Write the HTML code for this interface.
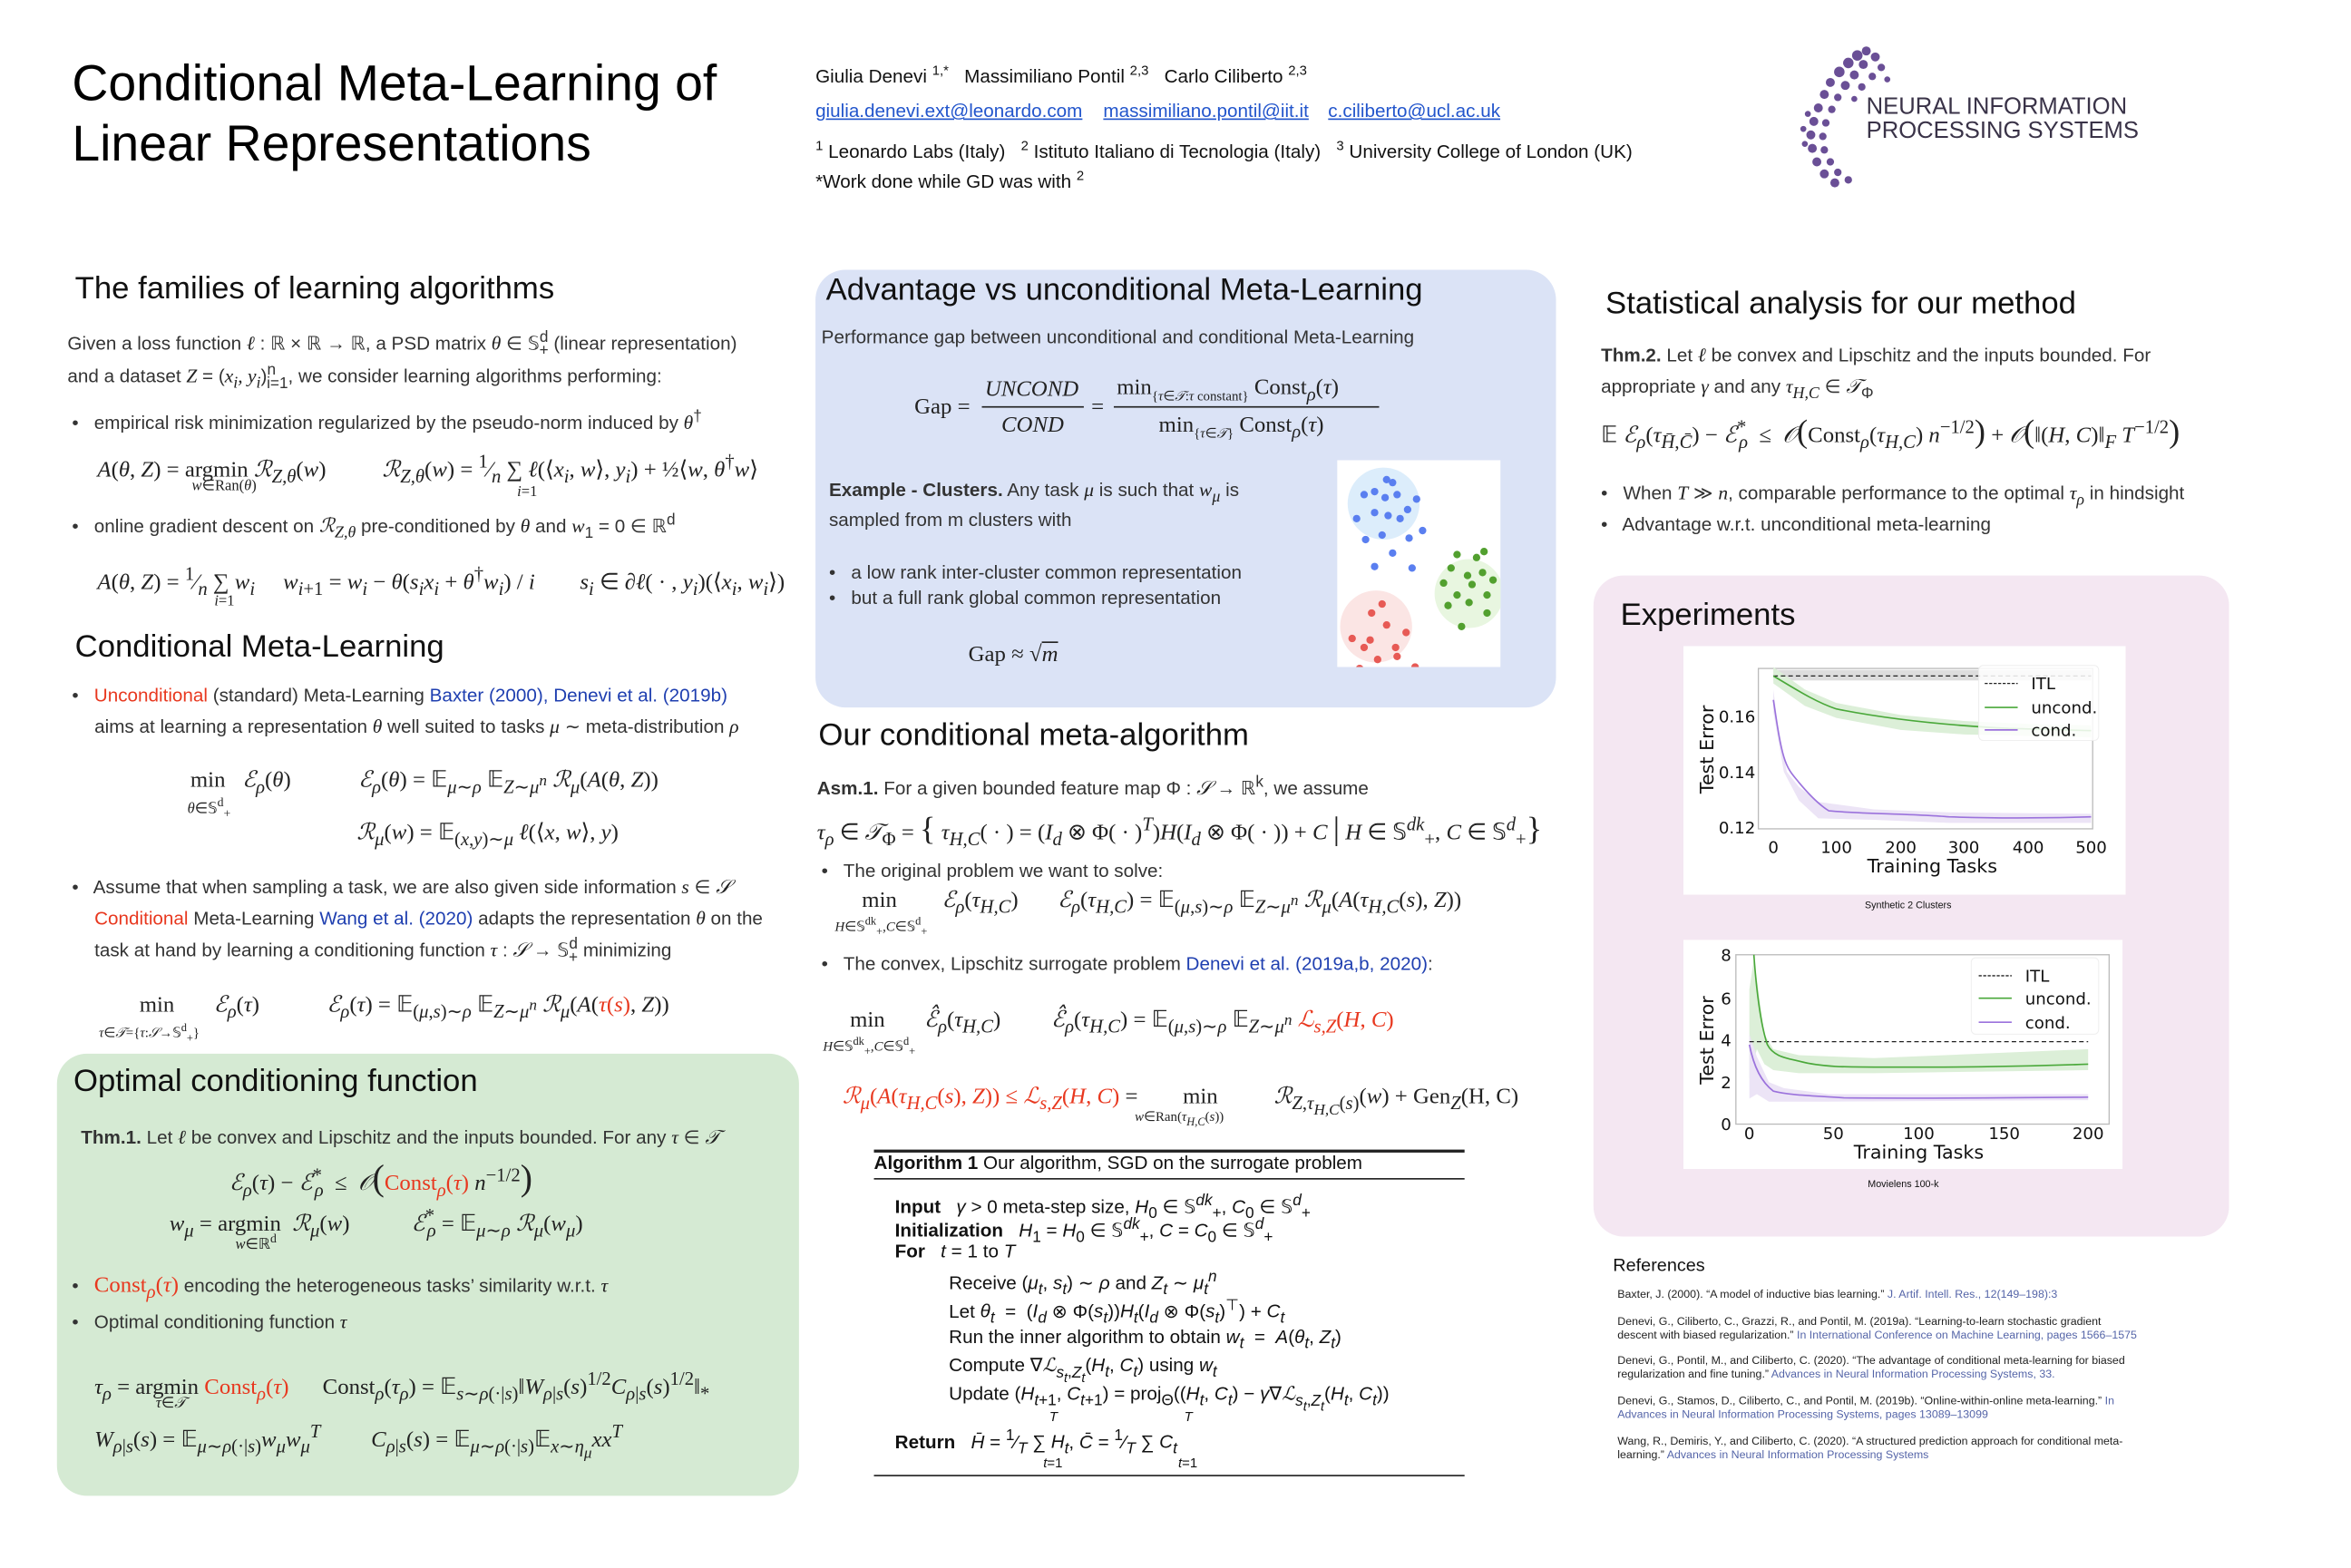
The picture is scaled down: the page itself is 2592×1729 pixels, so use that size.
<!DOCTYPE html>
<html><head><meta charset="utf-8">
<style>
html,body{margin:0;padding:0;background:#fff;}
body{width:2592px;height:1728px;overflow:hidden;position:relative;}
#p{position:absolute;left:0;top:0;width:1568px;height:1046px;transform:scale(1.6527);transform-origin:0 0;font-family:"Liberation Sans",sans-serif;color:#222;}
.t{position:absolute;white-space:nowrap;line-height:1;}
.h{font-size:21px;color:#111;}
.s{font-size:12.5px;color:#333;}
.m{font-family:"Liberation Serif",serif;font-size:15px;color:#222;}
.i{font-style:italic;}
.r{color:#e8381f;}
.b{color:#1f3fb0;}
.box{position:absolute;border-radius:20px;}
.ref{font-size:7.5px;color:#222;line-height:1.2;}
.ref span{color:#5565a8;}
.alg{font-family:"Liberation Sans",sans-serif;font-size:12.5px;color:#111;}
</style></head><body><div id="p">

<!-- header -->
<div class="t" style="left:48px;top:40px;font-size:33.5px;color:#000;">Conditional Meta-Learning of</div>
<div class="t" style="left:48px;top:80px;font-size:33.5px;color:#000;">Linear Representations</div>
<div class="t s" style="left:544px;top:43px;color:#111;">Giulia Denevi <sup style="font-size:9px">1,*</sup>&nbsp;&nbsp; Massimiliano Pontil <sup style="font-size:9px">2,3</sup>&nbsp;&nbsp; Carlo Ciliberto <sup style="font-size:9px">2,3</sup></div>
<div class="t s" style="left:544px;top:68px;color:#2255cc;text-decoration:underline;">giulia.denevi.ext@leonardo.com</div>
<div class="t s" style="left:736px;top:68px;color:#2255cc;text-decoration:underline;">massimiliano.pontil@iit.it</div>
<div class="t s" style="left:886px;top:68px;color:#2255cc;text-decoration:underline;">c.ciliberto@ucl.ac.uk</div>
<div class="t s" style="left:544px;top:93px;color:#111;"><sup style="font-size:9px">1</sup> Leonardo Labs (Italy)&nbsp;&nbsp; <sup style="font-size:9px">2</sup> Istituto Italiano di Tecnologia (Italy)&nbsp;&nbsp; <sup style="font-size:9px">3</sup> University College of London (UK)</div>
<div class="t s" style="left:544px;top:113px;color:#111;">*Work done while GD was with <sup style="font-size:9px">2</sup></div>

<svg style="position:absolute;left:1195px;top:28px" width="100" height="100">
<g fill="#6a4f96">
<circle cx="50" cy="6" r="3"/><circle cx="44" cy="9" r="3.5"/><circle cx="56" cy="10" r="3"/><circle cx="38" cy="14" r="3.5"/><circle cx="48" cy="15" r="3"/><circle cx="60" cy="17" r="2.5"/><circle cx="32" cy="20" r="3.5"/><circle cx="42" cy="22" r="3"/><circle cx="54" cy="23" r="2.5"/><circle cx="64" cy="25" r="2"/><circle cx="26" cy="27" r="3"/><circle cx="36" cy="29" r="3"/><circle cx="47" cy="30" r="2.5"/><circle cx="22" cy="35" r="3"/><circle cx="31" cy="37" r="2.5"/><circle cx="42" cy="38" r="2"/><circle cx="18" cy="44" r="3"/><circle cx="27" cy="45" r="2.5"/><circle cx="15" cy="53" r="3"/><circle cx="23" cy="54" r="2.5"/><circle cx="13" cy="62" r="3"/><circle cx="21" cy="63" r="2.5"/><circle cx="14" cy="71" r="3"/><circle cx="22" cy="72" r="2.5"/><circle cx="17" cy="80" r="3"/><circle cx="26" cy="80" r="2.5"/><circle cx="22" cy="88" r="3"/><circle cx="31" cy="87" r="2.5"/><circle cx="29" cy="94" r="3"/><circle cx="38" cy="92" r="2.5"/><circle cx="8" cy="58" r="2"/><circle cx="9" cy="68" r="2"/><circle cx="11" cy="48" r="2"/></g></svg>
<div class="t" style="left:1245px;top:64px;font-size:15.5px;color:#3a3348;">NEURAL INFORMATION</div>
<div class="t" style="left:1245px;top:80px;font-size:15.5px;color:#3a3348;">PROCESSING SYSTEMS</div>

<!-- left column -->
<div class="t h" style="left:50px;top:182px;">The families of learning algorithms</div>
<div class="t s" style="left:45px;top:221px;">Given a loss function <i class="m" style="font-size:13px">ℓ</i> : ℝ × ℝ → ℝ, a PSD matrix <i class="m" style="font-size:13px">θ</i> ∈ 𝕊<sup>d</sup><sub style="margin-left:-6px">+</sub> (linear representation)</div>
<div class="t s" style="left:45px;top:243px;">and a dataset <i class="m" style="font-size:13px">Z</i> = (<i class="m" style="font-size:13px">x<sub>i</sub>, y<sub>i</sub></i>)<sup>n</sup><sub style="margin-left:-6px">i=1</sub>, we consider learning algorithms performing:</div>
<div class="t s" style="left:48px;top:274px;">•&nbsp;&nbsp; empirical risk minimization regularized by the pseudo-norm induced by <i class="m" style="font-size:13px">θ</i><sup>†</sup></div>
<div class="t m" style="left:65px;top:302px;"><i>A</i>(<i>θ</i>, <i>Z</i>) = argmin <i>ℛ<sub>Z,θ</sub></i>(<i>w</i>)&nbsp;&nbsp;&nbsp;&nbsp;&nbsp;&nbsp;&nbsp;&nbsp;&nbsp; <i>ℛ<sub>Z,θ</sub></i>(<i>w</i>) = <sup>1</sup>⁄<sub><i>n</i></sub> ∑ <i>ℓ</i>(⟨<i>x<sub>i</sub></i>, <i>w</i>⟩, <i>y<sub>i</sub></i>) + ½⟨<i>w</i>, <i>θ</i><sup>†</sup><i>w</i>⟩</div>
<div class="t m" style="left:128px;top:320px;font-size:10px;"><i>w</i>∈Ran(<i>θ</i>)</div>
<div class="t m" style="left:345px;top:324px;font-size:10px;"><i>i</i>=1</div>
<div class="t s" style="left:48px;top:343px;">•&nbsp;&nbsp; online gradient descent on <i class="m" style="font-size:13px">ℛ<sub>Z,θ</sub></i> pre-conditioned by <i class="m" style="font-size:13px">θ</i> and <i class="m" style="font-size:13px">w</i><sub>1</sub> = 0 ∈ ℝ<sup>d</sup></div>
<div class="t m" style="left:65px;top:377px;"><i>A</i>(<i>θ</i>, <i>Z</i>) = <sup>1</sup>⁄<sub><i>n</i></sub> ∑ <i>w<sub>i</sub></i>&nbsp;&nbsp;&nbsp;&nbsp; <i>w</i><sub><i>i</i>+1</sub> = <i>w<sub>i</sub></i> − <i>θ</i>(<i>s<sub>i</sub>x<sub>i</sub></i> + <i>θ</i><sup>†</sup><i>w<sub>i</sub></i>) / <i>i</i>&nbsp;&nbsp;&nbsp;&nbsp;&nbsp;&nbsp;&nbsp; <i>s<sub>i</sub></i> ∈ ∂<i>ℓ</i>( · , <i>y<sub>i</sub></i>)(⟨<i>x<sub>i</sub></i>, <i>w<sub>i</sub></i>⟩)</div>
<div class="t m" style="left:143px;top:397px;font-size:10px;"><i>i</i>=1</div>

<div class="t h" style="left:50px;top:421px;">Conditional Meta-Learning</div>
<div class="t s" style="left:48px;top:458px;">•&nbsp;&nbsp; <span class="r">Unconditional</span> (standard) Meta-Learning <span class="b">Baxter (2000), Denevi et al. (2019b)</span></div>
<div class="t s" style="left:63px;top:478px;">aims at learning a representation <i class="m" style="font-size:13px">θ</i> well suited to tasks <i class="m" style="font-size:13px">μ</i> ∼ meta-distribution <i class="m" style="font-size:13px">ρ</i></div>
<div class="t m" style="left:127px;top:514px;">min&nbsp;&nbsp; <i>ℰ<sub>ρ</sub></i>(<i>θ</i>)&nbsp;&nbsp;&nbsp;&nbsp;&nbsp;&nbsp;&nbsp;&nbsp;&nbsp;&nbsp;&nbsp; <i>ℰ<sub>ρ</sub></i>(<i>θ</i>) = 𝔼<sub><i>μ</i>∼<i>ρ</i></sub> 𝔼<sub><i>Z</i>∼<i>μ<sup>n</sup></i></sub> <i>ℛ<sub>μ</sub></i>(<i>A</i>(<i>θ</i>, <i>Z</i>))</div>
<div class="t m" style="left:125px;top:532px;font-size:10px;"><i>θ</i>∈𝕊<sup>d</sup><sub>+</sub></div>
<div class="t m" style="left:238px;top:549px;"><i>ℛ<sub>μ</sub></i>(<i>w</i>) = 𝔼<sub>(<i>x</i>,<i>y</i>)∼<i>μ</i></sub> <i>ℓ</i>(⟨<i>x</i>, <i>w</i>⟩, <i>y</i>)</div>
<div class="t s" style="left:48px;top:585px;">•&nbsp;&nbsp; Assume that when sampling a task, we are also given side information <i class="m" style="font-size:13px">s</i> ∈ <i class="m" style="font-size:13px">𝒮</i></div>
<div class="t s" style="left:63px;top:606px;"><span class="r">Conditional</span> Meta-Learning <span class="b">Wang et al. (2020)</span> adapts the representation <i class="m" style="font-size:13px">θ</i> on the</div>
<div class="t s" style="left:63px;top:626px;">task at hand by learning a conditioning function <i class="m" style="font-size:13px">τ</i> : <i class="m" style="font-size:13px">𝒮</i> → 𝕊<sup>d</sup><sub style="margin-left:-6px">+</sub> minimizing</div>
<div class="t m" style="left:93px;top:664px;">min&nbsp;&nbsp;&nbsp;&nbsp;&nbsp;&nbsp; <i>ℰ<sub>ρ</sub></i>(<i>τ</i>)&nbsp;&nbsp;&nbsp;&nbsp;&nbsp;&nbsp;&nbsp;&nbsp;&nbsp;&nbsp;&nbsp; <i>ℰ<sub>ρ</sub></i>(<i>τ</i>) = 𝔼<sub>(<i>μ</i>,<i>s</i>)∼<i>ρ</i></sub> 𝔼<sub><i>Z</i>∼<i>μ<sup>n</sup></i></sub> <i>ℛ<sub>μ</sub></i>(<i>A</i>(<span class="r"><i>τ</i>(<i>s</i>)</span>, <i>Z</i>))</div>
<div class="t m" style="left:66px;top:682px;font-size:9px;"><i>τ</i>∈<i>𝒯</i>={<i>τ</i>:<i>𝒮</i>→𝕊<sup>d</sup><sub>+</sub>}</div>

<!-- green box -->
<div class="box" style="left:38px;top:703px;width:495px;height:295px;background:#d5ead3;"></div>
<div class="t h" style="left:49px;top:711px;">Optimal conditioning function</div>
<div class="t s" style="left:54px;top:752px;"><b>Thm.1.</b> Let <i class="m" style="font-size:13px">ℓ</i> be convex and Lipschitz and the inputs bounded. For any <i class="m" style="font-size:13px">τ</i> ∈ <i class="m" style="font-size:13px">𝒯</i></div>
<div class="t m" style="left:153px;top:775px;"><i>ℰ<sub>ρ</sub></i>(<i>τ</i>) − <i>ℰ</i><sup>*</sup><sub style="margin-left:-5px"><i>ρ</i></sub> &nbsp;≤&nbsp; <i>𝒪</i><span style="font-size:24px">(</span><span class="r">Const<sub><i>ρ</i></sub>(<i>τ</i>)</span> <i>n</i><sup>−1/2</sup><span style="font-size:24px">)</span></div>
<div class="t m" style="left:113px;top:805px;"><i>w<sub>μ</sub></i> = argmin&nbsp; <i>ℛ<sub>μ</sub></i>(<i>w</i>)&nbsp;&nbsp;&nbsp;&nbsp;&nbsp;&nbsp;&nbsp;&nbsp;&nbsp;&nbsp; <i>ℰ</i><sup>*</sup><sub style="margin-left:-5px"><i>ρ</i></sub> = 𝔼<sub><i>μ</i>∼<i>ρ</i></sub> <i>ℛ<sub>μ</sub></i>(<i>w<sub>μ</sub></i>)</div>
<div class="t m" style="left:157px;top:823px;font-size:10px;"><i>w</i>∈ℝ<sup>d</sup></div>
<div class="t s" style="left:48px;top:851px;">•&nbsp;&nbsp; <span class="r m" style="font-size:15px">Const<sub><i>ρ</i></sub>(<i>τ</i>)</span> encoding the heterogeneous tasks’ similarity w.r.t. <i class="m" style="font-size:13px">τ</i></div>
<div class="t s" style="left:48px;top:875px;">•&nbsp;&nbsp; Optimal conditioning function <i class="m" style="font-size:13px">τ</i></div>
<div class="t m" style="left:63px;top:914px;"><i>τ<sub>ρ</sub></i> = argmin <span class="r">Const<sub><i>ρ</i></sub>(<i>τ</i>)</span>&nbsp;&nbsp;&nbsp;&nbsp;&nbsp; Const<sub><i>ρ</i></sub>(<i>τ<sub>ρ</sub></i>) = 𝔼<sub><i>s</i>∼<i>ρ</i>(·|<i>s</i>)</sub>‖<i>W</i><sub><i>ρ</i>|<i>s</i></sub>(<i>s</i>)<sup>1/2</sup><i>C</i><sub><i>ρ</i>|<i>s</i></sub>(<i>s</i>)<sup>1/2</sup>‖<sub>*</sub></div>
<div class="t m" style="left:104px;top:932px;font-size:10px;"><i>τ</i>∈<i>𝒯</i></div>
<div class="t m" style="left:63px;top:949px;"><i>W</i><sub><i>ρ</i>|<i>s</i></sub>(<i>s</i>) = 𝔼<sub><i>μ</i>∼<i>ρ</i>(·|<i>s</i>)</sub><i>w<sub>μ</sub>w<sub>μ</sub><sup>T</sup></i>&nbsp;&nbsp;&nbsp;&nbsp;&nbsp;&nbsp;&nbsp;&nbsp; <i>C</i><sub><i>ρ</i>|<i>s</i></sub>(<i>s</i>) = 𝔼<sub><i>μ</i>∼<i>ρ</i>(·|<i>s</i>)</sub>𝔼<sub><i>x</i>∼<i>η<sub>μ</sub></i></sub><i>xx<sup>T</sup></i></div>

<!-- blue box -->
<div class="box" style="left:544px;top:180px;width:494px;height:292px;background:#dbe3f6;"></div>
<div class="t h" style="left:551px;top:183px;">Advantage vs unconditional Meta-Learning</div>
<div class="t s" style="left:548px;top:219px;">Performance gap between unconditional and conditional Meta-Learning</div>
<div class="t m" style="left:610px;top:265px;">Gap =</div>
<div class="t m i" style="left:657px;top:253px;">UNCOND</div>
<div style="position:absolute;left:655px;top:271px;width:68px;height:1px;background:#222"></div>
<div class="t m i" style="left:668px;top:277px;">COND</div>
<div class="t m" style="left:728px;top:265px;">=</div>
<div class="t m" style="left:745px;top:252px;">min<sub style="font-size:9px">{<i>τ</i>∈<i>𝒯</i>:<i>τ</i> constant}</sub> Const<sub><i>ρ</i></sub>(<i>τ</i>)</div>
<div style="position:absolute;left:743px;top:271px;width:177px;height:1px;background:#222"></div>
<div class="t m" style="left:773px;top:277px;">min<sub style="font-size:9px">{<i>τ</i>∈<i>𝒯</i>}</sub> Const<sub><i>ρ</i></sub>(<i>τ</i>)</div>
<div class="t s" style="left:553px;top:320px;"><b>Example - Clusters.</b> Any task <i class="m" style="font-size:13px">μ</i> is such that <i class="m" style="font-size:13px">w<sub>μ</sub></i> is</div>
<div class="t s" style="left:553px;top:341px;">sampled from m clusters with</div>
<div class="t s" style="left:553px;top:376px;">•&nbsp;&nbsp; a low rank inter-cluster common representation</div>
<div class="t s" style="left:553px;top:393px;">•&nbsp;&nbsp; but a full rank global common representation</div>
<div class="t m" style="left:646px;top:430px;">Gap ≈ √<span style="text-decoration:overline"><i>m</i></span></div>
<svg style="position:absolute;left:892px;top:307px" width="109" height="138">
<rect width="109" height="138" fill="#fff"/>
<circle cx="31" cy="29" r="24" fill="#dcedfb"/><circle cx="26" cy="111" r="24" fill="#fbe5e4"/><circle cx="88" cy="89" r="23" fill="#e8f6e0"/>
<g fill="#5a7ff0"><circle cx="33" cy="13" r="2.5"/><circle cx="37" cy="15" r="2.5"/><circle cx="18" cy="23" r="2.5"/><circle cx="25" cy="21" r="2.5"/><circle cx="32" cy="25" r="2.5"/><circle cx="40" cy="23" r="2.5"/><circle cx="53" cy="26" r="2.5"/><circle cx="13" cy="39" r="2.5"/><circle cx="25" cy="35" r="2.5"/><circle cx="34" cy="37" r="2.5"/><circle cx="42" cy="39" r="2.5"/><circle cx="47" cy="33" r="2.5"/><circle cx="57" cy="47" r="2.5"/><circle cx="19" cy="53" r="2.5"/><circle cx="30" cy="50" r="2.5"/><circle cx="48" cy="52" r="2.5"/><circle cx="37" cy="62" r="2.5"/><circle cx="25" cy="71" r="2.5"/><circle cx="50" cy="72" r="2.5"/></g>
<g fill="#e75a55"><circle cx="30" cy="96" r="2.5"/><circle cx="23" cy="102" r="2.5"/><circle cx="33" cy="110" r="2.5"/><circle cx="46" cy="115" r="2.5"/><circle cx="10" cy="119" r="2.5"/><circle cx="22" cy="120" r="2.5"/><circle cx="39" cy="125" r="2.5"/><circle cx="40" cy="131" r="2.5"/><circle cx="27" cy="133" r="2.5"/><circle cx="15" cy="139" r="2.5"/><circle cx="31" cy="144" r="2.5"/><circle cx="52" cy="138" r="2.5"/><circle cx="18" cy="125" r="2.5"/></g>
<g fill="#52a02f"><circle cx="80" cy="63" r="2.5"/><circle cx="93" cy="65" r="2.5"/><circle cx="98" cy="61" r="2.5"/><circle cx="76" cy="72" r="2.5"/><circle cx="87" cy="77" r="2.5"/><circle cx="97" cy="75" r="2.5"/><circle cx="71" cy="82" r="2.5"/><circle cx="80" cy="90" r="2.5"/><circle cx="90" cy="83" r="2.5"/><circle cx="104" cy="80" r="2.5"/><circle cx="74" cy="97" r="2.5"/><circle cx="88" cy="95" r="2.5"/><circle cx="100" cy="90" r="2.5"/><circle cx="100" cy="102" r="2.5"/><circle cx="83" cy="111" r="2.5"/></g>
</svg>

<!-- middle column -->
<div class="t h" style="left:546px;top:480px;">Our conditional meta-algorithm</div>
<div class="t s" style="left:545px;top:518px;"><b>Asm.1.</b> For a given bounded feature map Φ : <i class="m" style="font-size:13px">𝒮</i> → ℝ<sup>k</sup>, we assume</div>
<div class="t m" style="left:545px;top:542px;"><i>τ<sub>ρ</sub></i> ∈ <i>𝒯</i><sub>Φ</sub> = <span style="font-size:22px">{</span> <i>τ<sub>H,C</sub></i>( · ) = (<i>I<sub>d</sub></i> ⊗ Φ( · )<sup><i>T</i></sup>)<i>H</i>(<i>I<sub>d</sub></i> ⊗ Φ( · )) + <i>C</i> <span style="font-size:22px">|</span> <i>H</i> ∈ 𝕊<sup><i>dk</i></sup><sub>+</sub>, <i>C</i> ∈ 𝕊<sup><i>d</i></sup><sub>+</sub><span style="font-size:22px">}</span></div>
<div class="t s" style="left:548px;top:575px;">•&nbsp;&nbsp; The original problem we want to solve:</div>
<div class="t m" style="left:575px;top:594px;">min&nbsp;&nbsp;&nbsp;&nbsp;&nbsp;&nbsp;&nbsp; <i>ℰ<sub>ρ</sub></i>(<i>τ<sub>H,C</sub></i>)&nbsp;&nbsp;&nbsp;&nbsp;&nbsp;&nbsp; <i>ℰ<sub>ρ</sub></i>(<i>τ<sub>H,C</sub></i>) = 𝔼<sub>(<i>μ</i>,<i>s</i>)∼<i>ρ</i></sub> 𝔼<sub><i>Z</i>∼<i>μ<sup>n</sup></i></sub> <i>ℛ<sub>μ</sub></i>(<i>A</i>(<i>τ<sub>H,C</sub></i>(<i>s</i>), <i>Z</i>))</div>
<div class="t m" style="left:557px;top:611px;font-size:9px;"><i>H</i>∈𝕊<sup>dk</sup><sub>+</sub>,<i>C</i>∈𝕊<sup>d</sup><sub>+</sub></div>
<div class="t s" style="left:548px;top:637px;">•&nbsp;&nbsp; The convex, Lipschitz surrogate problem <span class="b">Denevi et al. (2019a,b, 2020)</span>:</div>
<div class="t m" style="left:567px;top:674px;">min&nbsp;&nbsp;&nbsp;&nbsp;&nbsp;&nbsp; <i>ℰ̂<sub>ρ</sub></i>(<i>τ<sub>H,C</sub></i>)&nbsp;&nbsp;&nbsp;&nbsp;&nbsp;&nbsp;&nbsp;&nbsp; <i>ℰ̂<sub>ρ</sub></i>(<i>τ<sub>H,C</sub></i>) = 𝔼<sub>(<i>μ</i>,<i>s</i>)∼<i>ρ</i></sub> 𝔼<sub><i>Z</i>∼<i>μ<sup>n</sup></i></sub> <span class="r"><i>ℒ<sub>s,Z</sub></i>(<i>H</i>, <i>C</i>)</span></div>
<div class="t m" style="left:549px;top:691px;font-size:9px;"><i>H</i>∈𝕊<sup>dk</sup><sub>+</sub>,<i>C</i>∈𝕊<sup>d</sup><sub>+</sub></div>
<div class="t m" style="left:562px;top:725px;"><span class="r"><i>ℛ<sub>μ</sub></i>(<i>A</i>(<i>τ<sub>H,C</sub></i>(<i>s</i>), <i>Z</i>)) ≤ <i>ℒ<sub>s,Z</sub></i>(<i>H</i>, <i>C</i>)</span> =&nbsp;&nbsp;&nbsp;&nbsp;&nbsp;&nbsp;&nbsp; min&nbsp;&nbsp;&nbsp;&nbsp;&nbsp;&nbsp;&nbsp;&nbsp;&nbsp; <i>ℛ</i><sub><i>Z</i>,<i>τ<sub>H,C</sub></i>(<i>s</i>)</sub>(<i>w</i>) + Gen<sub><i>Z</i></sub>(H, C)</div>
<div class="t m" style="left:757px;top:741px;font-size:9px;"><i>w</i>∈Ran(<i>τ<sub>H,C</sub></i>(<i>s</i>))</div>

<!-- algorithm -->
<div style="position:absolute;left:583px;top:767px;width:394px;height:1.5px;background:#222"></div>
<div class="t alg" style="left:583px;top:770px;"><b>Algorithm 1</b> Our algorithm, SGD on the surrogate problem</div>
<div style="position:absolute;left:583px;top:786px;width:394px;height:1px;background:#222"></div>
<div class="t alg" style="left:597px;top:797px;"><b>Input</b>&nbsp;&nbsp; <i>γ</i> &gt; 0 meta-step size, <i>H</i><sub>0</sub> ∈ 𝕊<sup><i>dk</i></sup><sub>+</sub>, <i>C</i><sub>0</sub> ∈ 𝕊<sup><i>d</i></sup><sub>+</sub></div>
<div class="t alg" style="left:597px;top:813px;"><b>Initialization</b>&nbsp;&nbsp; <i>H</i><sub>1</sub> = <i>H</i><sub>0</sub> ∈ 𝕊<sup><i>dk</i></sup><sub>+</sub>, <i>C</i> = <i>C</i><sub>0</sub> ∈ 𝕊<sup><i>d</i></sup><sub>+</sub></div>
<div class="t alg" style="left:597px;top:829px;"><b>For</b>&nbsp;&nbsp; <i>t</i> = 1 to <i>T</i></div>
<div class="t alg" style="left:633px;top:848px;">Receive (<i>μ<sub>t</sub></i>, <i>s<sub>t</sub></i>) ∼ <i>ρ</i> and <i>Z<sub>t</sub></i> ∼ <i>μ<sub>t</sub><sup>n</sup></i></div>
<div class="t alg" style="left:633px;top:867px;">Let <i>θ<sub>t</sub></i> &nbsp;=&nbsp; (<i>I<sub>d</sub></i> ⊗ Φ(<i>s<sub>t</sub></i>))<i>H<sub>t</sub></i>(<i>I<sub>d</sub></i> ⊗ Φ(<i>s<sub>t</sub></i>)<sup>⊤</sup>) + <i>C<sub>t</sub></i></div>
<div class="t alg" style="left:633px;top:886px;">Run the inner algorithm to obtain <i>w<sub>t</sub></i> &nbsp;=&nbsp; <i>A</i>(<i>θ<sub>t</sub></i>, <i>Z<sub>t</sub></i>)</div>
<div class="t alg" style="left:633px;top:905px;">Compute ∇<i>ℒ</i><sub><i>s<sub>t</sub></i>,<i>Z<sub>t</sub></i></sub>(<i>H<sub>t</sub></i>, <i>C<sub>t</sub></i>) using <i>w<sub>t</sub></i></div>
<div class="t alg" style="left:633px;top:924px;">Update (<i>H</i><sub><i>t</i>+1</sub>, <i>C</i><sub><i>t</i>+1</sub>) = proj<sub>Θ</sub>((<i>H<sub>t</sub></i>, <i>C<sub>t</sub></i>) − <i>γ</i>∇<i>ℒ</i><sub><i>s<sub>t</sub></i>,<i>Z<sub>t</sub></i></sub>(<i>H<sub>t</sub></i>, <i>C<sub>t</sub></i>))</div>
<div class="t alg" style="left:597px;top:954px;"><b>Return</b>&nbsp;&nbsp; <i>H̄</i> = <sup>1</sup>⁄<sub><i>T</i></sub> ∑ <i>H<sub>t</sub></i>, <i>C̄</i> = <sup>1</sup>⁄<sub><i>T</i></sub> ∑ <i>C<sub>t</sub></i></div>
<div class="t alg" style="left:700px;top:941px;font-size:9px;"><i>T</i></div>
<div class="t alg" style="left:696px;top:972px;font-size:9px;"><i>t</i>=1</div>
<div class="t alg" style="left:790px;top:941px;font-size:9px;"><i>T</i></div>
<div class="t alg" style="left:786px;top:972px;font-size:9px;"><i>t</i>=1</div>
<div style="position:absolute;left:583px;top:984px;width:394px;height:1px;background:#222"></div>

<!-- right column -->
<div class="t h" style="left:1071px;top:192px;">Statistical analysis for our method</div>
<div class="t s" style="left:1068px;top:230px;"><b>Thm.2.</b> Let <i class="m" style="font-size:13px">ℓ</i> be convex and Lipschitz and the inputs bounded. For</div>
<div class="t s" style="left:1068px;top:251px;">appropriate <i class="m" style="font-size:13px">γ</i> and any <i class="m" style="font-size:13px">τ<sub>H,C</sub></i> ∈ <i class="m" style="font-size:13px">𝒯</i><sub>Φ</sub></div>
<div class="t m" style="left:1068px;top:277px;">𝔼 <i>ℰ<sub>ρ</sub></i>(<i>τ</i><sub><i>H̄</i>,<i>C̄</i></sub>) − <i>ℰ</i><sup>*</sup><sub style="margin-left:-5px"><i>ρ</i></sub> &nbsp;≤&nbsp; <i>𝒪</i><span style="font-size:22px">(</span>Const<sub><i>ρ</i></sub>(<i>τ<sub>H,C</sub></i>) <i>n</i><sup>−1/2</sup><span style="font-size:22px">)</span> + <i>𝒪</i><span style="font-size:22px">(</span>‖(<i>H</i>, <i>C</i>)‖<sub><i>F</i></sub> <i>T</i><sup>−1/2</sup><span style="font-size:22px">)</span></div>
<div class="t s" style="left:1068px;top:322px;">•&nbsp;&nbsp; When <i class="m" style="font-size:13px">T</i> ≫ <i class="m" style="font-size:13px">n</i>, comparable performance to the optimal <i class="m" style="font-size:13px">τ<sub>ρ</sub></i> in hindsight</div>
<div class="t s" style="left:1068px;top:344px;">•&nbsp;&nbsp; Advantage w.r.t. unconditional meta-learning</div>

<!-- pink box -->
<div class="box" style="left:1063px;top:384px;width:424px;height:441px;background:#f4e7f2;"></div>
<div class="t h" style="left:1081px;top:400px;">Experiments</div>

<svg style="position:absolute;left:1123px;top:431px" width="295" height="166" viewBox="1123 431 295 166" font-family="DejaVu Sans, sans-serif">
<rect x="1123" y="431" width="295" height="166" fill="#fff"/>
<rect x="1173" y="446" width="223" height="107" fill="none" stroke="#bbb" stroke-width="0.8"/>
<rect x="1183" y="447" width="212" height="7" fill="#ddd"/>
<path d="M1183,445 L1204,460 L1225,469 L1268,477 L1310,481 L1353,483 L1395,484 L1395,492 L1353,491 L1310,490 L1268,487 L1225,479 L1204,471 L1183,456Z" fill="#dcefd8"/>
<path d="M1183,460 L1186,484 L1192,515 L1200,525 L1213,535 L1250,540 L1300,542 L1395,543 L1395,549 L1300,549 L1250,547 L1213,546 L1200,534 L1190,515 L1183,475Z" fill="#ece4f6"/>
<line x1="1183" y1="451" x2="1395" y2="451" stroke="#222" stroke-width="0.8" stroke-dasharray="3,2"/>
<path d="M1183,451 C1195,458 1210,468 1225,473 C1260,480 1300,484 1340,486 L1395,487.5" fill="none" stroke="#4aa83a" stroke-width="1"/>
<path d="M1183,467 C1185,480 1187,495 1190,505 C1193,515 1197,518 1200,522 C1205,528 1212,536 1220,541 C1240,543 1280,543 1300,545 C1330,546 1360,546 1395,545" fill="none" stroke="#9b72dc" stroke-width="1"/>
<rect x="1320" y="444" width="80" height="50" rx="3" fill="#fff" fill-opacity="0.85" stroke="#eee" stroke-width="0.6"/>
<line x1="1324" y1="456" x2="1346" y2="456" stroke="#222" stroke-width="0.8" stroke-dasharray="2,1"/>
<line x1="1324" y1="472" x2="1346" y2="472" stroke="#4aa83a" stroke-width="1"/>
<line x1="1324" y1="487" x2="1346" y2="487" stroke="#9b72dc" stroke-width="1"/>
<g font-size="11" fill="#111"><text x="1355" y="460">ITL</text><text x="1355" y="476">uncond.</text><text x="1355" y="491">cond.</text></g>
<g font-size="11" fill="#111" text-anchor="end"><text x="1171" y="482">0.16</text><text x="1171" y="519">0.14</text><text x="1171" y="556">0.12</text></g>
<g font-size="11" fill="#111" text-anchor="middle"><text x="1183" y="569">0</text><text x="1225" y="569">100</text><text x="1268" y="569">200</text><text x="1310" y="569">300</text><text x="1353" y="569">400</text><text x="1395" y="569">500</text>
<text x="1289" y="582" font-size="12.5">Training Tasks</text>
<text transform="translate(1143,500) rotate(-90)" font-size="12.5">Test Error</text></g>
</svg>
<div class="t" style="left:1244px;top:602px;font-size:6.5px;color:#111;">Synthetic 2 Clusters</div>

<svg style="position:absolute;left:1123px;top:627px" width="293" height="153" viewBox="1123 627 293 153" font-family="DejaVu Sans, sans-serif">
<rect x="1123" y="627" width="293" height="153" fill="#fff"/>
<rect x="1158" y="637" width="249" height="113" fill="none" stroke="#bbb" stroke-width="0.8"/>
<path d="M1167,660 L1170,640 L1173,660 L1177,690 L1183,700 L1200,704 L1250,706 L1393,700 L1393,714 L1250,716 L1200,716 L1183,714 L1177,710 L1172,700 L1167,720Z" fill="#dcefd8"/>
<path d="M1167,690 L1172,705 L1180,722 L1190,726 L1220,730 L1393,730 L1393,734 L1220,735 L1190,735 L1180,735 L1172,730 L1167,733Z" fill="#ece4f6"/>
<line x1="1167" y1="695" x2="1393" y2="695" stroke="#222" stroke-width="0.8" stroke-dasharray="3,2"/>
<path d="M1170,637 C1172,665 1175,685 1179,697 C1183,705 1192,706 1200,708 C1215,712 1230,712 1260,712 C1300,712 1340,712 1393,710" fill="none" stroke="#4aa83a" stroke-width="1"/>
<path d="M1167,697 C1170,712 1175,722 1183,728 C1195,731 1210,731 1230,732.5 C1280,733 1340,732.5 1393,732" fill="none" stroke="#9b72dc" stroke-width="1"/>
<rect x="1315" y="639" width="85" height="51" rx="3" fill="#fff" stroke="#eee" stroke-width="0.6"/>
<line x1="1320" y1="651" x2="1342" y2="651" stroke="#222" stroke-width="0.8" stroke-dasharray="2,1"/>
<line x1="1320" y1="666" x2="1342" y2="666" stroke="#4aa83a" stroke-width="1"/>
<line x1="1320" y1="682" x2="1342" y2="682" stroke="#9b72dc" stroke-width="1"/>
<g font-size="11" fill="#111"><text x="1351" y="655">ITL</text><text x="1351" y="670">uncond.</text><text x="1351" y="686">cond.</text></g>
<g font-size="11" fill="#111" text-anchor="end"><text x="1155" y="641">8</text><text x="1155" y="670">6</text><text x="1155" y="698">4</text><text x="1155" y="726">2</text><text x="1155" y="754">0</text></g>
<g font-size="11" fill="#111" text-anchor="middle"><text x="1167" y="760">0</text><text x="1223" y="760">50</text><text x="1280" y="760">100</text><text x="1337" y="760">150</text><text x="1393" y="760">200</text>
<text x="1280" y="773" font-size="12.5">Training Tasks</text>
<text transform="translate(1143,694) rotate(-90)" font-size="12.5">Test Error</text></g>
</svg>
<div class="t" style="left:1246px;top:788px;font-size:6.5px;color:#111;">Movielens 100-k</div>

<!-- references -->
<div class="t" style="left:1076px;top:838px;font-size:12px;color:#111;">References</div>
<div class="t ref" style="left:1079px;top:859px;">Baxter, J. (2000). “A model of inductive bias learning.” <span>J. Artif. Intell. Res., 12(149–198):3</span></div>
<div class="t ref" style="left:1079px;top:877px;">Denevi, G., Ciliberto, C., Grazzi, R., and Pontil, M. (2019a). “Learning-to-learn stochastic gradient<br>descent with biased regularization.” <span>In International Conference on Machine Learning, pages 1566–1575</span></div>
<div class="t ref" style="left:1079px;top:903px;">Denevi, G., Pontil, M., and Ciliberto, C. (2020). “The advantage of conditional meta-learning for biased<br>regularization and fine tuning.” <span>Advances in Neural Information Processing Systems, 33.</span></div>
<div class="t ref" style="left:1079px;top:930px;">Denevi, G., Stamos, D., Ciliberto, C., and Pontil, M. (2019b). “Online-within-online meta-learning.” <span>In</span><br><span>Advances in Neural Information Processing Systems, pages 13089–13099</span></div>
<div class="t ref" style="left:1079px;top:957px;">Wang, R., Demiris, Y., and Ciliberto, C. (2020). “A structured prediction approach for conditional meta-<br>learning.” <span>Advances in Neural Information Processing Systems</span></div>

</div></body></html>
